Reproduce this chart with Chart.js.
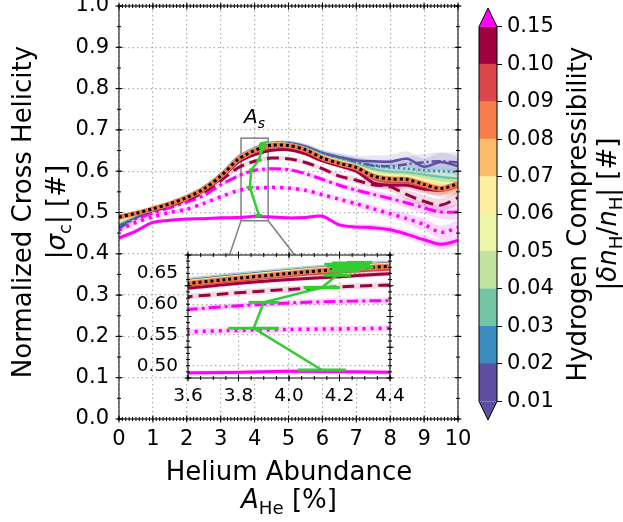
<!DOCTYPE html>
<html>
<head>
<meta charset="utf-8">
<title>Cross helicity vs helium abundance</title>
<script src="https://cdn.jsdelivr.net/npm/chart.js@4.4.1/dist/chart.umd.min.js"></script>
<style>
  body { margin: 0; background: #fff; }
  #wrap { position: relative; width: 623px; height: 522px; }
  #wrap canvas { position: absolute; }
</style>
</head>
<body>
<div id="wrap">
  <canvas id="mainChart" width="623" height="522" style="left:0;top:0"></canvas>
  <canvas id="cbarChart" width="158" height="522" style="left:465px;top:0"></canvas>
  <canvas id="insetChart" width="290" height="160" style="left:125px;top:248px"></canvas>
</div>
<script>
// helium abundance grid [%]
const heAbund = [0, 0.5, 1, 1.5, 2, 2.5, 3, 3.5, 3.75, 4, 4.25, 4.5, 5, 5.5, 6, 6.5, 7, 7.5, 8, 8.5, 9, 9.5, 10];

// normalized cross helicity |sigma_c| per hydrogen compressibility bin
const scUnder = [0.462, 0.487, 0.505, 0.521, 0.537, 0.559, 0.591, 0.632, 0.644, 0.654, 0.662, 0.667, 0.667, 0.659, 0.643, 0.631, 0.621, 0.614, 0.612, 0.617, 0.622, 0.624, 0.621];
const sc01 = [0.466, 0.490, 0.507, 0.522, 0.538, 0.560, 0.592, 0.633, 0.645, 0.655, 0.663, 0.668, 0.668, 0.660, 0.644, 0.634, 0.626, 0.624, 0.623, 0.630, 0.611, 0.622, 0.612];
const sc02 = [0.470, 0.492, 0.508, 0.522, 0.539, 0.561, 0.592, 0.633, 0.645, 0.655, 0.663, 0.668, 0.668, 0.658, 0.642, 0.631, 0.621, 0.613, 0.609, 0.606, 0.602, 0.600, 0.598];
const sc03 = [0.474, 0.494, 0.509, 0.523, 0.539, 0.560, 0.591, 0.632, 0.644, 0.654, 0.662, 0.667, 0.666, 0.656, 0.639, 0.627, 0.616, 0.605, 0.598, 0.596, 0.591, 0.586, 0.582];
const sc04 = [0.477, 0.495, 0.509, 0.523, 0.538, 0.560, 0.591, 0.632, 0.644, 0.654, 0.662, 0.667, 0.665, 0.655, 0.637, 0.625, 0.614, 0.600, 0.594, 0.592, 0.586, 0.579, 0.577];
const sc05 = [0.480, 0.496, 0.510, 0.523, 0.538, 0.559, 0.590, 0.631, 0.643, 0.653, 0.661, 0.666, 0.665, 0.654, 0.636, 0.623, 0.612, 0.596, 0.590, 0.588, 0.580, 0.572, 0.570];
const sc06 = [0.482, 0.497, 0.510, 0.522, 0.538, 0.559, 0.590, 0.631, 0.643, 0.653, 0.661, 0.666, 0.664, 0.654, 0.635, 0.622, 0.611, 0.593, 0.586, 0.585, 0.575, 0.566, 0.564];
const sc07 = [0.485, 0.498, 0.510, 0.522, 0.537, 0.558, 0.589, 0.630, 0.642, 0.652, 0.660, 0.665, 0.664, 0.653, 0.634, 0.621, 0.610, 0.590, 0.583, 0.582, 0.571, 0.561, 0.561];
const sc08 = [0.487, 0.498, 0.509, 0.521, 0.536, 0.557, 0.588, 0.628, 0.640, 0.650, 0.658, 0.663, 0.662, 0.652, 0.632, 0.619, 0.609, 0.588, 0.581, 0.580, 0.568, 0.558, 0.570];
const sc09 = [0.486, 0.497, 0.508, 0.520, 0.535, 0.555, 0.585, 0.624, 0.636, 0.646, 0.653, 0.658, 0.658, 0.648, 0.629, 0.616, 0.604, 0.582, 0.573, 0.572, 0.562, 0.553, 0.563];
const sc10 = [0.485, 0.496, 0.507, 0.519, 0.533, 0.553, 0.583, 0.621, 0.632, 0.640, 0.646, 0.651, 0.652, 0.642, 0.625, 0.613, 0.600, 0.572, 0.566, 0.566, 0.557, 0.554, 0.570];
const sc10b = [0.482, 0.493, 0.504, 0.516, 0.530, 0.549, 0.577, 0.608, 0.617, 0.624, 0.629, 0.632, 0.630, 0.621, 0.606, 0.588, 0.578, 0.567, 0.562, 0.543, 0.527, 0.518, 0.536];
const scOver1 = [0.472, 0.485, 0.499, 0.512, 0.525, 0.541, 0.567, 0.588, 0.596, 0.602, 0.605, 0.606, 0.604, 0.594, 0.580, 0.566, 0.554, 0.544, 0.534, 0.523, 0.511, 0.501, 0.501];
const scOver2 = [0.458, 0.476, 0.490, 0.500, 0.508, 0.522, 0.538, 0.553, 0.557, 0.559, 0.560, 0.561, 0.559, 0.554, 0.543, 0.532, 0.521, 0.509, 0.497, 0.485, 0.471, 0.452, 0.464];
const scOver3 = [0.438, 0.455, 0.476, 0.481, 0.484, 0.485, 0.487, 0.488, 0.489, 0.491, 0.490, 0.489, 0.487, 0.488, 0.491, 0.470, 0.465, 0.463, 0.458, 0.447, 0.434, 0.423, 0.432];
const scAll = [0.489, 0.498, 0.509, 0.521, 0.536, 0.557, 0.588, 0.628, 0.640, 0.650, 0.658, 0.663, 0.662, 0.652, 0.632, 0.619, 0.609, 0.588, 0.581, 0.580, 0.568, 0.558, 0.570];

// spread of each curve (shaded bands)
const errNarrow = [0.008, 0.005, 0.004, 0.004, 0.004, 0.004, 0.004, 0.004, 0.004, 0.004, 0.004, 0.004, 0.004, 0.005, 0.005, 0.006, 0.007, 0.008, 0.009, 0.010, 0.011, 0.012, 0.013];
const errMid = [0.009, 0.006, 0.005, 0.005, 0.005, 0.005, 0.005, 0.005, 0.005, 0.005, 0.005, 0.005, 0.005, 0.006, 0.006, 0.007, 0.008, 0.009, 0.010, 0.012, 0.014, 0.016, 0.018];
const errWide = [0.012, 0.007, 0.005, 0.005, 0.005, 0.005, 0.005, 0.005, 0.005, 0.005, 0.005, 0.005, 0.006, 0.007, 0.008, 0.010, 0.012, 0.014, 0.016, 0.018, 0.020, 0.022, 0.024];

// saturation abundance A_s per curve, with its spread
const asAbund = [4.13, 3.86, 3.90, 4.13, 4.19, 4.22, 4.24, 4.27, 4.23, 4.25, 4.22, 4.26, 4.24, 4.28, 4.25];
const asSigma = [0.493, 0.561, 0.603, 0.627, 0.647, 0.654, 0.658, 0.660, 0.662, 0.664, 0.665, 0.666, 0.667, 0.668, 0.666];
const asErr = [0.095, 0.10, 0.06, 0.072, 0.055, 0.06, 0.07, 0.065, 0.08, 0.07, 0.08, 0.06, 0.07, 0.05, 0.06];

// tick labels
const mainXTicks = [0, 1, 2, 3, 4, 5, 6, 7, 8, 9, 10];
const mainYTicks = [0, 0.1, 0.2, 0.3, 0.4, 0.5, 0.6, 0.7, 0.8, 0.9, 1.0];
const insetXTicks = [3.6, 3.8, 4.0, 4.2, 4.4];
const insetYTicks = [0.50, 0.55, 0.60, 0.65];
const cbarBounds = [0.01, 0.02, 0.03, 0.04, 0.05, 0.06, 0.07, 0.08, 0.09, 0.10, 0.15];
const cbarColors = ['#5e4fa2', '#3a8cc0', '#72c6a5', '#c1e4a0', '#eef7a9', '#feeea0', '#fdbb6c', '#f67e4b', '#da464c', '#9e0142'];

const FONT = '"DejaVu Sans", sans-serif';
const GREEN = '#33cc33';

const curves = [
  {v: scOver3, e: errNarrow, color: '#ff00ff', dash: [], w: 3, band: 'rgba(255,0,255,0.16)'},
  {v: scOver2, e: errMid, color: '#ff00ff', dash: [3, 5], w: 3.5, band: 'rgba(255,0,255,0.16)'},
  {v: scOver1, e: errMid, color: '#ff00ff', dash: [12, 4, 3, 4], w: 3, band: 'rgba(255,0,255,0.16)'},
  {v: sc10b, e: errMid, color: '#9e0142', dash: [12, 6], w: 3, band: 'rgba(158,1,66,0.14)'},
  {v: sc10, e: errNarrow, color: '#9e0142', dash: [], w: 3, band: 'rgba(158,1,66,0.14)'},
  {v: scUnder, e: errWide, color: '#5e4fa2', dash: [9, 3, 2, 3], w: 2.5, band: 'rgba(94,79,162,0.14)'},
  {v: sc01, e: errWide, color: '#5e4fa2', dash: [], w: 2.5, band: 'rgba(94,79,162,0.14)'},
  {v: sc02, e: errWide, color: '#3288bd', dash: [2, 3], w: 2.5, band: 'rgba(50,136,189,0.14)'},
  {v: sc03, e: errWide, color: '#6ec5a5', dash: [], w: 2.5, band: 'rgba(110,197,165,0.18)'},
  {v: sc04, e: errWide, color: '#c1e4a0', dash: [], w: 2.5, band: 'rgba(193,228,160,0.2)'},
  {v: sc05, e: errMid, color: '#eef7a9', dash: [], w: 2.5, band: 'rgba(238,247,169,0.25)'},
  {v: sc06, e: errMid, color: '#fee79a', dash: [], w: 2.5, band: 'rgba(254,231,154,0.25)'},
  {v: sc07, e: errMid, color: '#fdbb6c', dash: [], w: 2.5, band: 'rgba(253,187,108,0.2)'},
  {v: sc08, e: errMid, color: '#f67e4b', dash: [], w: 2.5, band: 'rgba(246,126,75,0.16)'},
  {v: sc09, e: errMid, color: '#da464c', dash: [], w: 2.5, band: 'rgba(218,70,76,0.16)'}
];

function pts(arr) {
  return heAbund.map((x, i) => ({x: x, y: arr[i]}));
}

function makeDatasets() {
  const ds = [];
  const base = {pointRadius: 0, tension: 0.3, fill: false};
  curves.forEach(c => {
    ds.push({...base, data: pts(c.v.map((v, i) => v - c.e[i])), borderWidth: 0, borderColor: 'rgba(0,0,0,0)'});
    ds.push({...base, data: pts(c.v.map((v, i) => v + c.e[i])), borderWidth: 0, borderColor: 'rgba(0,0,0,0)',
      fill: '-1', backgroundColor: c.band});
  });
  curves.forEach(c => {
    ds.push({...base, data: pts(c.v), borderColor: c.color, borderWidth: c.w, borderDash: c.dash});
  });
  // all data: black dots on orange
  ds.push({...base, data: pts(scAll), borderColor: '#f47a45', borderWidth: 5});
  ds.push({...base, data: pts(scAll), borderColor: '#000', borderWidth: 3, borderDash: [3, 3]});
  // A_s with horizontal error bars
  asAbund.forEach((a, i) => {
    ds.push({...base, tension: 0, borderColor: GREEN, borderWidth: 3,
      data: [{x: a - asErr[i], y: asSigma[i]}, {x: a + asErr[i], y: asSigma[i]}]});
  });
  ds.push({...base, tension: 0, borderColor: GREEN, borderWidth: 2.5,
    data: asAbund.map((a, i) => ({x: a, y: asSigma[i]}))});
  ds.forEach((d, i) => d.order = -i);
  return ds;
}

// text with italic / subscript parts: [text, italic, sub]
function richText(ctx, parts, x, y, size, rotate) {
  ctx.save();
  ctx.translate(x, y);
  if (rotate) ctx.rotate(-Math.PI / 2);
  const fontOf = p => (p[1] ? 'italic ' : '') + (p[2] ? size * 0.7 : size) + 'px ' + FONT;
  let w = 0;
  parts.forEach(p => { ctx.font = fontOf(p); w += ctx.measureText(p[0]).width; });
  let cx = -w / 2;
  ctx.fillStyle = '#000';
  ctx.textBaseline = 'alphabetic';
  ctx.textAlign = 'left';
  parts.forEach(p => {
    ctx.font = fontOf(p);
    ctx.fillText(p[0], cx, p[2] ? size * 0.22 : 0);
    cx += ctx.measureText(p[0]).width;
  });
  ctx.restore();
}

// frame with in-out ticks on all four sides
function drawFrame(chart, xr, yr) {
  const {ctx, chartArea: a} = chart;
  const sx = chart.scales.x, sy = chart.scales.y;
  ctx.save();
  ctx.strokeStyle = '#000';
  ctx.lineWidth = 1;
  ctx.strokeRect(a.left, a.top, a.right - a.left, a.bottom - a.top);
  const seg = (x1, y1, x2, y2) => { ctx.beginPath(); ctx.moveTo(x1, y1); ctx.lineTo(x2, y2); ctx.stroke(); };
  const run = (lo, hi, step, len, isX) => {
    const n = Math.round((hi - lo) / step);
    for (let i = 0; i <= n; i++) {
      const v = lo + i * step;
      if (isX) {
        const p = sx.getPixelForValue(v);
        seg(p, a.bottom - len, p, a.bottom + len);
        seg(p, a.top - len, p, a.top + len);
      } else {
        const p = sy.getPixelForValue(v);
        seg(a.left - len, p, a.left + len, p);
        seg(a.right - len, p, a.right + len, p);
      }
    }
  };
  run(xr[0], xr[1], xr[3], 2, true);
  run(xr[0], xr[1], xr[2], 3.5, true);
  run(yr[0], yr[1], yr[3], 2, false);
  run(yr[0], yr[1], yr[2], 3.5, false);
  ctx.restore();
}

const INSET = {left: 188, top: 255, right: 390, bottom: 378};

const mainPlugin = {
  id: 'mainDeco',
  beforeDraw(chart) {
    const ctx = chart.ctx;
    ctx.save();
    ctx.fillStyle = '#fff';
    ctx.fillRect(0, 0, chart.width, chart.height);
    ctx.restore();
  },
  beforeDatasetsDraw(chart) {
    const {ctx} = chart;
    const sx = chart.scales.x, sy = chart.scales.y;
    const l = sx.getPixelForValue(insetXTicks[0]), r = sx.getPixelForValue(insetXTicks[insetXTicks.length - 1]);
    const t = sy.getPixelForValue(0.68), b = sy.getPixelForValue(0.48);
    ctx.save();
    ctx.strokeStyle = '#808080';
    ctx.lineWidth = 1.5;
    ctx.strokeRect(l, t, r - l, b - t);
    ctx.beginPath();
    ctx.moveTo(l, b); ctx.lineTo(INSET.left, INSET.bottom);
    ctx.moveTo(r, b); ctx.lineTo(INSET.right, INSET.bottom);
    ctx.stroke();
    ctx.restore();
  },
  afterDraw(chart) {
    drawFrame(chart, [0, 10, 1, 0.1], [0, 1, 0.1, 0.05]);
    const ctx = chart.ctx;
    const sx = chart.scales.x, sy = chart.scales.y;
    richText(ctx, [['Normalized Cross Helicity']], 31, 212, 26, true);
    richText(ctx, [['|'], ['σ', true], ['c', false, true], ['| [#]']], 65, 212, 26, true);
    richText(ctx, [['Helium Abundance']], 289, 480, 26, false);
    richText(ctx, [['A', true], ['He', false, true], [' [%]']], 289, 508, 26, false);
    richText(ctx, [['A', true], ['s', true, true]], sx.getPixelForValue(4.0), sy.getPixelForValue(0.68) - 15, 20, false);
  }
};

new Chart(document.getElementById('mainChart'), {
  type: 'line',
  data: {datasets: makeDatasets()},
  options: {
    responsive: false,
    animation: false,
    events: [],
    layout: {padding: {left: 0, top: 6, right: 165, bottom: 0}},
    plugins: {legend: {display: false}, tooltip: {enabled: false}},
    scales: {
      x: {
        type: 'linear', min: 0, max: 10,
        afterBuildTicks: s => { s.ticks = mainXTicks.map(v => ({value: v})); },
        afterFit: s => { s.height = 103; s.paddingLeft = 0; s.paddingRight = 0; },
        ticks: {font: {family: FONT, size: 21}, color: '#000', padding: 8, maxRotation: 0, autoSkip: false,
          callback: v => String(v)},
        grid: {color: '#b0b0b0', lineWidth: 1.2, drawTicks: false},
        border: {display: false, dash: [1.5, 3]}
      },
      y: {
        type: 'linear', min: 0, max: 1,
        afterBuildTicks: s => { s.ticks = mainYTicks.map(v => ({value: v})); },
        afterFit: s => { s.width = 119; s.paddingTop = 0; s.paddingBottom = 0; },
        ticks: {font: {family: FONT, size: 21}, color: '#000', padding: 10, autoSkip: false,
          callback: v => v.toFixed(1)},
        grid: {color: '#b0b0b0', lineWidth: 1.2, drawTicks: false},
        border: {display: false, dash: [1.5, 3]}
      }
    }
  },
  plugins: [mainPlugin]
});

const insetPlugin = {
  id: 'insetDeco',
  beforeDraw(chart) {
    const {ctx, chartArea: a} = chart;
    ctx.save();
    ctx.fillStyle = '#fff';
    ctx.fillRect(a.left, a.top, a.right - a.left, a.bottom - a.top);
    ctx.restore();
  },
  afterDraw(chart) {
    drawFrame(chart, [3.6, 4.4, 0.2, 0.05], [0.48, 0.68, 0.05, 0.01]);
  }
};

new Chart(document.getElementById('insetChart'), {
  type: 'line',
  data: {datasets: makeDatasets()},
  options: {
    responsive: false,
    animation: false,
    events: [],
    layout: {padding: {left: 0, top: 7, right: 25, bottom: 0}},
    plugins: {legend: {display: false}, tooltip: {enabled: false}},
    scales: {
      x: {
        type: 'linear', min: 3.6, max: 4.4,
        afterBuildTicks: s => { s.ticks = insetXTicks.map(v => ({value: v})); },
        afterFit: s => { s.height = 30; s.paddingLeft = 0; s.paddingRight = 0; },
        ticks: {font: {family: FONT, size: 18.5}, color: '#000', padding: 7, maxRotation: 0, autoSkip: false,
          callback: v => v.toFixed(1)},
        grid: {color: '#b0b0b0', lineWidth: 1.2, drawTicks: false},
        border: {display: false, dash: [1.5, 3]}
      },
      y: {
        type: 'linear', min: 0.48, max: 0.68,
        afterBuildTicks: s => { s.ticks = insetYTicks.map(v => ({value: v})); },
        afterFit: s => { s.width = 63; s.paddingTop = 0; s.paddingBottom = 0; },
        ticks: {font: {family: FONT, size: 18.5}, color: '#000', padding: 10, autoSkip: false,
          callback: v => v.toFixed(2)},
        grid: {color: '#b0b0b0', lineWidth: 1.2, drawTicks: false},
        border: {display: false, dash: [1.5, 3]}
      }
    }
  },
  plugins: [insetPlugin]
});

const cbarPlugin = {
  id: 'cbarDeco',
  afterDatasetsDraw(chart) {
    const {ctx, chartArea: a} = chart;
    const sy = chart.scales.y;
    const n = cbarColors.length;
    const top = sy.getPixelForValue(n), tip = sy.getPixelForValue(n + 0.5);
    const bot = sy.getPixelForValue(0), btip = sy.getPixelForValue(-0.5);
    const mid = (a.left + a.right) / 2;
    ctx.save();
    ctx.fillStyle = '#ff00ff';
    ctx.beginPath(); ctx.moveTo(a.left, top); ctx.lineTo(mid, tip); ctx.lineTo(a.right, top); ctx.closePath(); ctx.fill();
    ctx.fillStyle = cbarColors[0];
    ctx.beginPath(); ctx.moveTo(a.left, bot); ctx.lineTo(mid, btip); ctx.lineTo(a.right, bot); ctx.closePath(); ctx.fill();
    ctx.strokeStyle = '#000';
    ctx.lineWidth = 1;
    ctx.beginPath();
    ctx.moveTo(a.left, bot); ctx.lineTo(a.left, top); ctx.lineTo(mid, tip); ctx.lineTo(a.right, top);
    ctx.lineTo(a.right, bot); ctx.lineTo(mid, btip); ctx.closePath();
    ctx.stroke();
    ctx.restore();
    richText(ctx, [['Hydrogen Compressibility']], 121, 214, 26, true);
    richText(ctx, [['|'], ['δ', true], ['n', true], ['H', false, true], ['/'], ['n', true], ['H', false, true], ['| [#]']], 151, 214, 26, true);
  }
};

new Chart(document.getElementById('cbarChart'), {
  type: 'bar',
  data: {
    labels: ['cbar'],
    datasets: cbarColors.map((c, i) => ({
      data: [[i, i + 1]], backgroundColor: c, borderWidth: 0, barPercentage: 1, categoryPercentage: 1
    }))
  },
  options: {
    responsive: false,
    animation: false,
    events: [],
    layout: {padding: {left: 14, top: 8, right: 0, bottom: 102}},
    plugins: {legend: {display: false}, tooltip: {enabled: false}},
    scales: {
      x: {stacked: true, display: false},
      y: {
        type: 'linear', position: 'right', min: -0.5, max: 10.5,
        afterBuildTicks: s => { s.ticks = cbarBounds.map((b, i) => ({value: i})); },
        afterFit: s => { s.width = 126; s.paddingTop = 0; s.paddingBottom = 0; },
        ticks: {font: {family: FONT, size: 21}, color: '#000', padding: 5, autoSkip: false,
          callback: v => cbarBounds[v].toFixed(2)},
        grid: {drawOnChartArea: false, drawTicks: true, tickLength: 5, color: '#000', lineWidth: 1},
        border: {display: false}
      }
    }
  },
  plugins: [cbarPlugin]
});
</script>
</body>
</html>
